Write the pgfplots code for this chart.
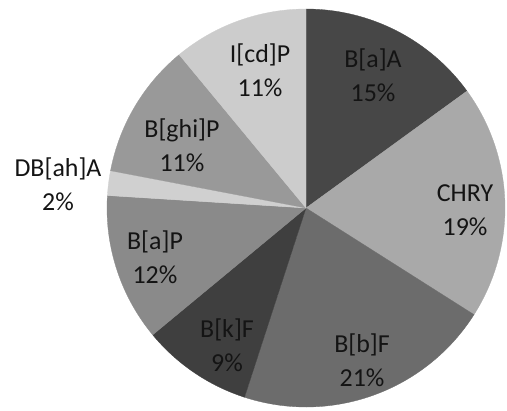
\documentclass[border=0pt]{standalone}
\usepackage{pgfplots}
\pgfplotsset{compat=1.18}
\usepackage{fontspec}
\setmainfont{Carlito}
\definecolor{cBaA}{HTML}{474747}
\definecolor{cCHRY}{HTML}{A9A9A9}
\definecolor{cBbF}{HTML}{6C6C6C}
\definecolor{cBkF}{HTML}{3F3F3F}
\definecolor{cBaP}{HTML}{8A8A8A}
\definecolor{cDB}{HTML}{D0D0D0}
\definecolor{cghi}{HTML}{999999}
\definecolor{cIcd}{HTML}{CCCCCC}
\begin{document}
\begin{tikzpicture}
\begin{axis}[
  x=1bp, y=1bp, xmin=0, xmax=507, ymin=0, ymax=410,
  hide axis, clip=false, scale only axis,
]
\draw[draw=none] (axis cs:0,0) rectangle (axis cs:507,410);
\def\cx{306}\def\cy{202}\def\rr{199}
\def\angstart{90}
% percentages, clockwise from 12 o'clock
\pgfplotsforeachungrouped \p/\c in {15/cBaA, 19/cCHRY, 21/cBbF, 9/cBkF, 12/cBaP, 2/cDB, 11/cghi, 11/cIcd}{%
  \pgfmathsetmacro\angend{\angstart-3.6*\p}%
  \edef\temp{\noexpand\addplot[fill=\c, draw=\c, line width=0.3pt, domain=\angend:\angstart, samples=80, smooth]
    ({\cx+\rr*cos(x)},{\cy+\rr*sin(x)}) -- (axis cs:\cx,\cy) -- cycle;}%
  \temp
  \global\let\angstart\angend
}
\tikzset{lbl/.style={font=\fontsize{26}{34}\selectfont, align=center, text=black!92}}
\node[lbl] at (axis cs:373,335) {B[a]A\\15\%};
\node[lbl] at (axis cs:465,200) {CHRY\\19\%};
\node[lbl] at (axis cs:362,50) {B[b]F\\21\%};
\node[lbl] at (axis cs:227,65) {B[k]F\\9\%};
\node[lbl] at (axis cs:155,153) {B[a]P\\12\%};
\node[lbl] at (axis cs:58,226) {DB[ah]A\\2\%};
\node[lbl] at (axis cs:182,265) {B[ghi]P\\11\%};
\node[lbl] at (axis cs:260,340) {I[cd]P\\11\%};
\end{axis}
\end{tikzpicture}
\end{document}
